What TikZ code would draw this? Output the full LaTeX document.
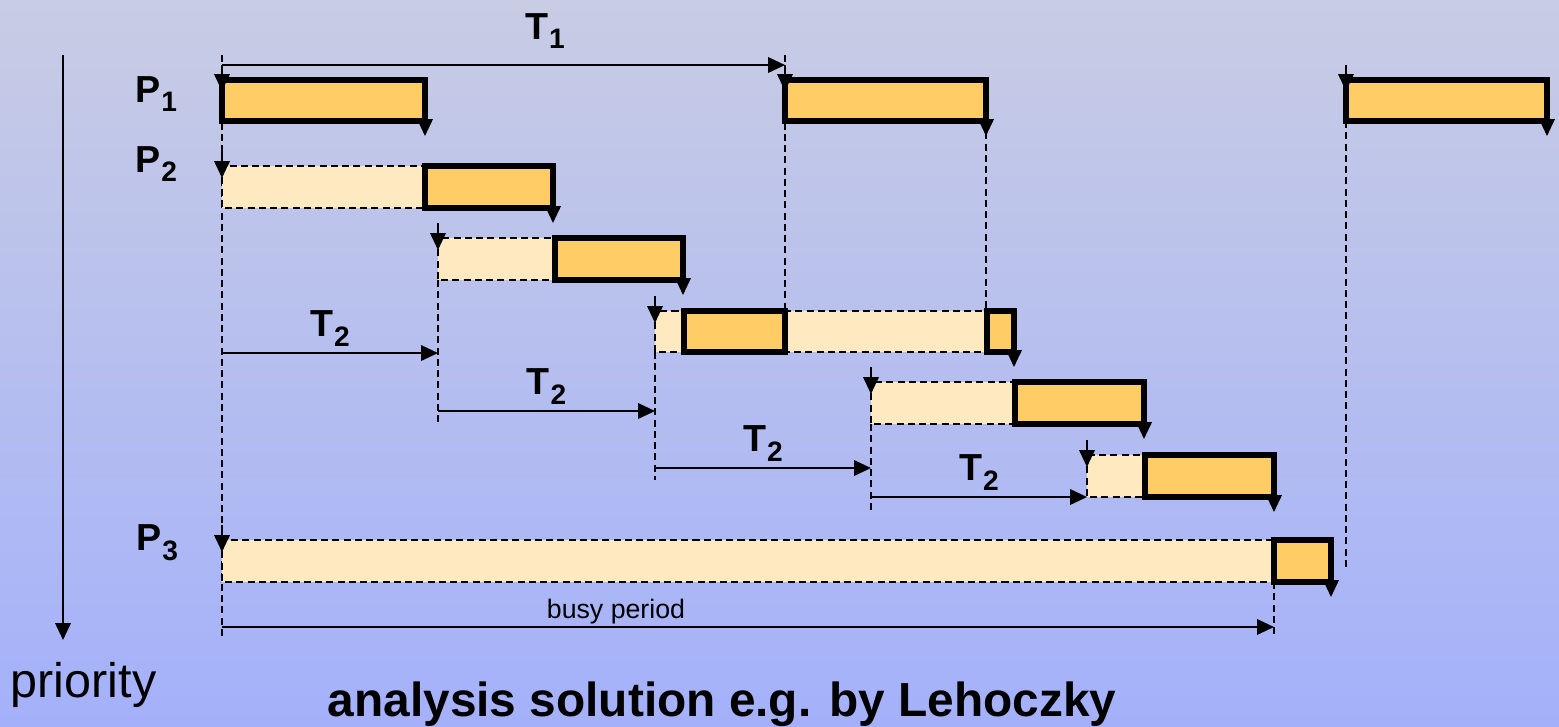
\documentclass[tikz,border=0pt]{standalone}
\usepackage{fontspec}
\setmainfont{Liberation Sans}
\usetikzlibrary{arrows.meta}
\definecolor{runfill}{RGB}{255,204,102}
\definecolor{waitfill}{RGB}{255,233,192}
\definecolor{bgtop}{RGB}{200,204,228}
\definecolor{bgbot}{RGB}{164,177,250}
% task name with a lowered index, as in P_1 or T_2
\newcommand{\tsub}[2]{#1\kern0.3pt\raisebox{-2.8pt}{\fontsize{8}{8}\selectfont #2}}

\begin{document}
\begin{tikzpicture}[x=0.01cm,y=-0.01cm,
  >={Triangle[length=4.8pt,width=4.4pt]},
  run/.style={draw=black,line width=1.5pt,fill=runfill},
  wait/.style={draw=black,line width=0.45pt,dash pattern=on 2pt off 1.2pt,fill=waitfill},
  guide/.style={line width=0.5pt,dash pattern=on 2pt off 1.2pt},
  tick/.style={->,line width=0.55pt},
  lbl/.style={font=\fontsize{10.7}{12}\selectfont\bfseries,inner sep=0pt}]
\useasboundingbox (0,0) rectangle (1559,726);
\shade[top color=bgtop,bottom color=bgbot] (0,0) rectangle (1559,726);

% ---------------- priority axis ----------------
\coordinate (ptop) at (63,55);
\coordinate (pbot) at (63,640);
\draw[tick] (ptop) -- (pbot);
\node[anchor=base west,inner sep=0pt,font=\fontsize{13.8}{16}\selectfont] (prio) at (10,697) {priority};
\node[lbl] (p1) at (156,94) {\tsub{P}{1}};
\node[lbl] (p2) at (156,164) {\tsub{P}{2}};
\node[lbl] (p3) at (157,543) {\tsub{P}{3}};

% ---------------- dashed time guides ----------------
\draw[guide] (222,55) -- (222,636);
\draw[guide] (785,55) -- (785,311);
\draw[guide] (986,121) -- (986,311);
\draw[guide] (1346,121) -- (1346,567);
\draw[guide] (438,280) -- (438,422);
\draw[guide] (655,352) -- (655,480);
\draw[guide] (871,424) -- (871,512);
\draw[guide] (1274,582) -- (1274,636);

% ---------------- waiting (preempted) parts ----------------
\draw[wait] (222,166) rectangle (553,208);
\draw[wait] (438,238) rectangle (683,280);
\draw[wait] (655,311) rectangle (1014,352);
\draw[wait] (871,382) rectangle (1144,424);
\draw[wait] (1087,455) rectangle (1274,497);
\draw[wait] (222,540) rectangle (1274,582);

% ---------------- executing parts ----------------
% P1
\draw[run] (222,80) rectangle (425,121);
\draw[run] (785,80) rectangle (986,121);
\draw[run] (1346,80) rectangle (1547,121);
% P2
\draw[run] (425,166) rectangle (553,208);
\draw[run] (555,238) rectangle (683,280);
\draw[run] (684,311) rectangle (785,352);
\draw[run] (987,311) rectangle (1014,352);
\draw[run] (1015,382) rectangle (1144,424);
\draw[run] (1145,455) rectangle (1274,497);
% P3
\draw[run] (1274,540) rectangle (1331,582);

% releases
\draw[tick] (222,65) -- (222,91);
\draw[tick] (785,65) -- (785,91);
\draw[tick] (1346,65) -- (1346,91);
\draw[tick] (222,151) -- (222,178);
\draw[tick] (438,223) -- (438,250);
\draw[tick] (655,296) -- (655,323);
\draw[tick] (871,367) -- (871,394);
\draw[tick] (1087,440) -- (1087,467);
\draw[tick] (222,525) -- (222,552);
% deadlines
\draw[tick] (425,117) -- (425,136);
\draw[tick] (986,117) -- (986,136);
\draw[tick] (1547,117) -- (1547,136);
\draw[tick] (553,204) -- (553,223);
\draw[tick] (683,276) -- (683,295);
\draw[tick] (1014,348) -- (1014,367);
\draw[tick] (1144,420) -- (1144,439);
\draw[tick] (1274,493) -- (1274,512);
\draw[tick] (1331,578) -- (1331,597);

% ---------------- periods ----------------
\coordinate (a0) at (222,65);  \coordinate (a1) at (785,65);
\coordinate (b0) at (222,353); \coordinate (b1) at (438,353);
\coordinate (c0) at (438,411); \coordinate (c1) at (655,411);
\coordinate (d0) at (655,468); \coordinate (d1) at (871,468);
\coordinate (e0) at (871,497); \coordinate (e1) at (1087,497);
\coordinate (f0) at (222,627); \coordinate (f1) at (1274,627);
\draw[tick] (a0) -- (a1);
\node[lbl] (t1) at (545,31) {\tsub{T}{1}};
\draw[tick] (b0) -- (b1) node[lbl,midway,above=1.5pt] (t2a) {\tsub{T}{2}};
\draw[tick] (c0) -- (c1) node[lbl,midway,above=1.5pt] (t2b) {\tsub{T}{2}};
\draw[tick] (d0) -- (d1) node[lbl,midway,above=1.5pt] (t2c) {\tsub{T}{2}};
\draw[tick] (e0) -- (e1) node[lbl,midway,above=1.5pt] (t2d) {\tsub{T}{2}};
\draw[tick] (f0) -- (f1);
\node[anchor=base,inner sep=0pt,font=\fontsize{7.6}{9}\selectfont] (busy) at (616,618) {busy period};

\node[anchor=base,inner sep=0pt,font=\fontsize{13.6}{16}\selectfont\bfseries] (title) at (722,716)
  {analysis solution e.g. by Lehoczky};
\end{tikzpicture}
\end{document}
